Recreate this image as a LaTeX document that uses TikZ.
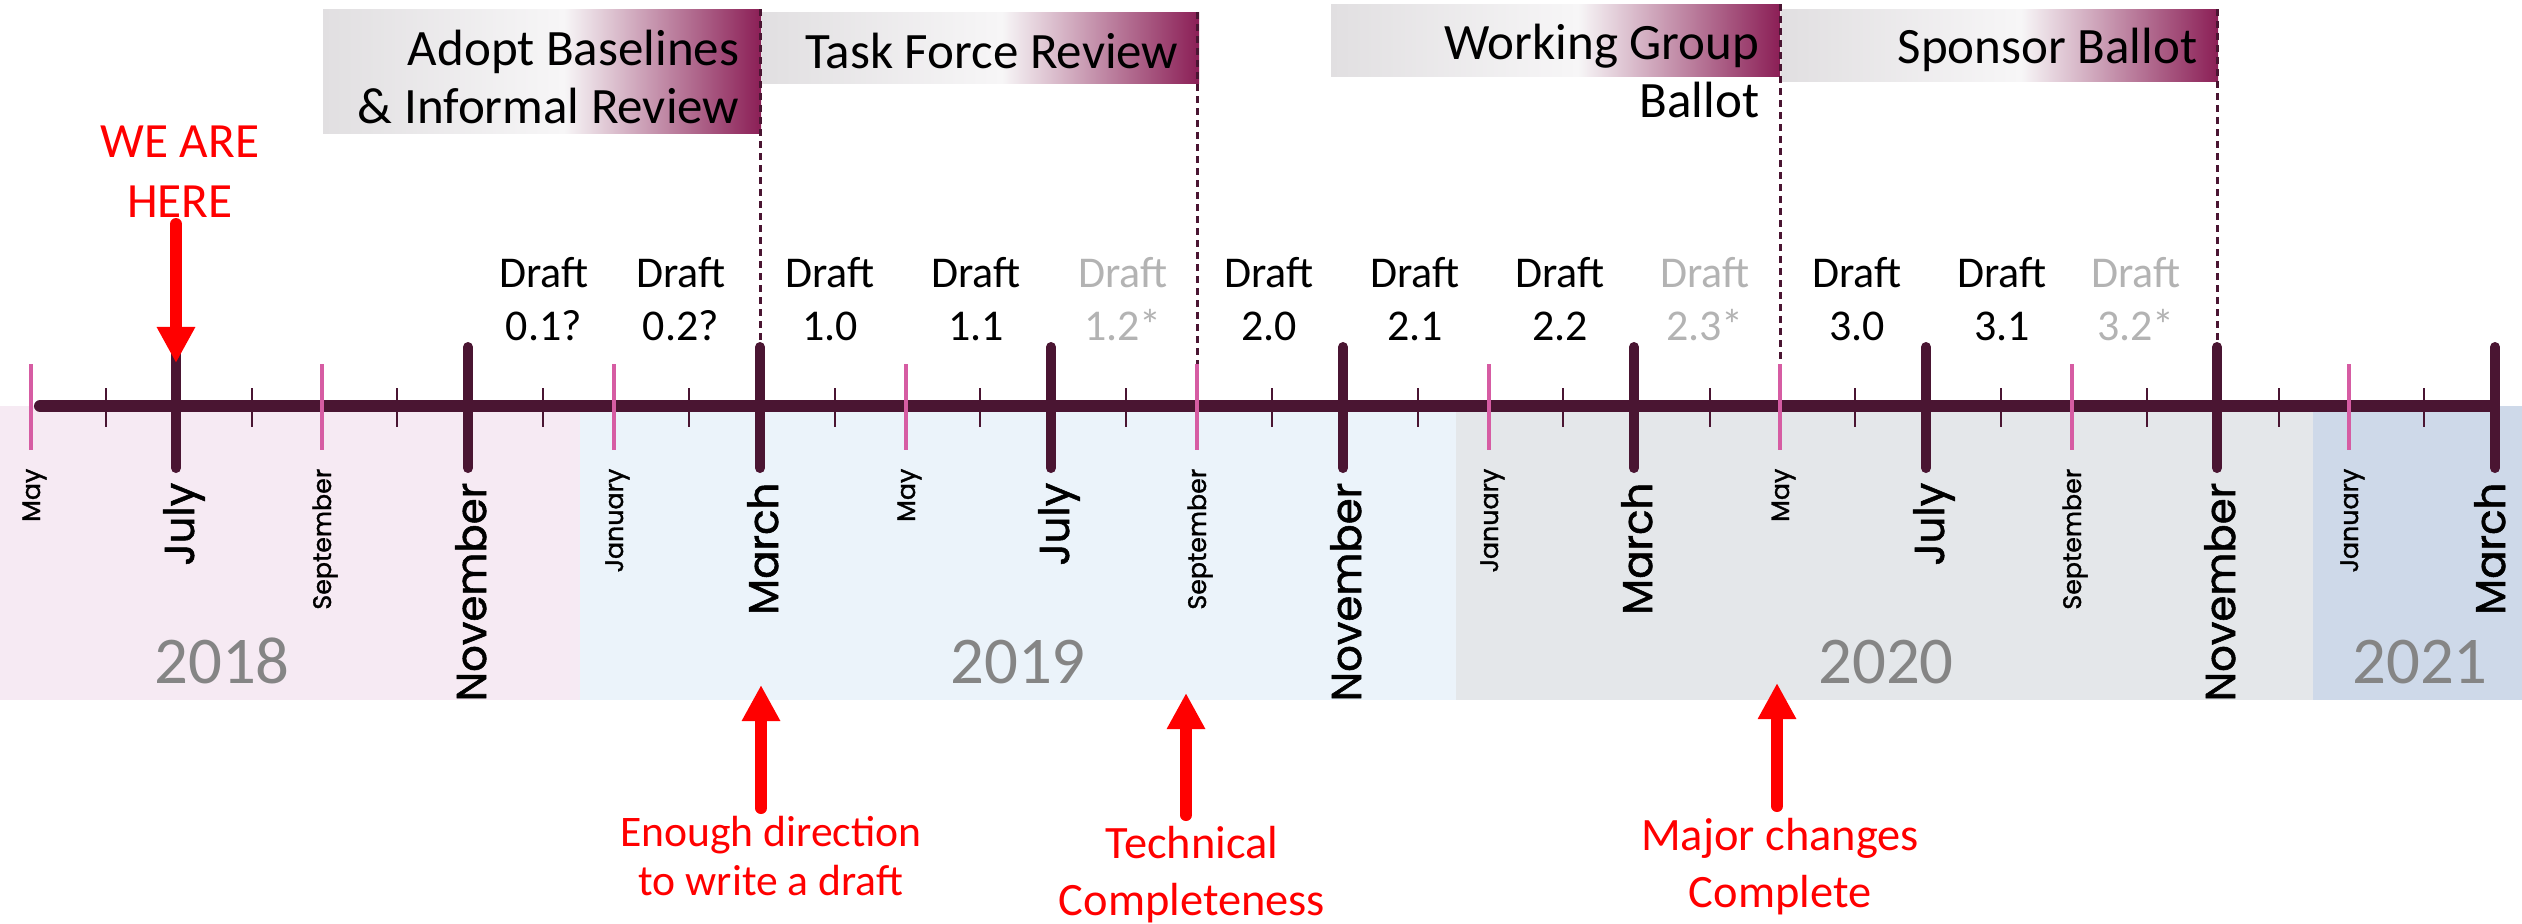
\documentclass[tikz,border=0pt]{standalone}
\usepackage{fontspec}
\setmainfont{Carlito}
\newfontfamily\monthfont{Poppins}[FakeBold=1.3]
\usetikzlibrary{arrows.meta}
\definecolor{tl}{HTML}{4A1532}
\definecolor{pinktick}{HTML}{D65CA3}
\definecolor{bandA}{HTML}{F6EAF3}
\definecolor{bandB}{HTML}{EBF3FA}
\definecolor{bandC}{HTML}{E4E7EA}
\definecolor{bandD}{HTML}{CED9E9}
\definecolor{yeargray}{HTML}{858585}
\definecolor{draftgray}{HTML}{B3B3B3}
\definecolor{boxgray}{HTML}{E1DFE1}
\definecolor{boxwhite}{HTML}{F7F6F7}
\definecolor{boxpurple}{HTML}{8B1F56}
\definecolor{alert}{HTML}{FF0000}
\begin{document}
\begin{tikzpicture}[x=0.01cm,y=-0.01cm,
  mainline/.style={tl,line width=0.12cm,line cap=round},
  minortick/.style={tl,line width=0.025cm},
  pinkt/.style={pinktick,line width=0.035cm},
  majortick/.style={tl,line width=0.10cm,line cap=round},
  bigmonth/.style={font=\monthfont\fontsize{11.9}{11.9}\selectfont,rotate=90,anchor=base east,inner sep=0pt},
  smallmonth/.style={font=\monthfont\fontsize{7.2}{7.2}\selectfont,rotate=90,anchor=base east,inner sep=0pt},
  draftlbl/.style={font=\fontsize{12.5}{14.8}\selectfont,align=center,anchor=base,inner sep=0pt},
  draftfut/.style={draftlbl,text=draftgray},
  phasetext/.style={font=\fontsize{14.5}{16.3}\selectfont,align=right,anchor=base east,inner sep=0pt},
  yearlbl/.style={font=\fontsize{19}{19}\selectfont,text=yeargray,anchor=base,inner sep=0pt},
  milestone/.style={text=alert,align=center,anchor=base,inner sep=0pt},
  redarrow/.style={alert,line width=0.12cm,line cap=round,-{Triangle[width=0.36cm,length=0.36cm]}},
  phaseline/.style={tl,line width=0.03cm,dash pattern=on 0.07cm off 0.05cm}]
\useasboundingbox (0,0) rectangle (2522,923);
% year bands
\fill[bandA] (0,406) rectangle (580,700);
\fill[bandB] (580,406) rectangle (1456,700);
\fill[bandC] (1456,406) rectangle (2313,700);
\fill[bandD] (2313,406) rectangle (2522,700);
\node[yearlbl] (y18) at (222,683) {2018};
\node[yearlbl] (y19) at (1018,683) {2019};
\node[yearlbl] (y20) at (1886,683) {2020};
\node[yearlbl] (y21) at (2420,683) {2021};
% phase boxes
\fill[left color=boxgray,right color=boxwhite] (323,9) rectangle (564,133);
\fill[left color=boxwhite,right color=boxpurple] (564,9) rectangle (761,133);
\fill[left color=boxgray,right color=boxwhite] (761,12) rectangle (1002,83);
\fill[left color=boxwhite,right color=boxpurple] (1002,12) rectangle (1199,83);
\fill[left color=boxgray,right color=boxwhite] (1331,4) rectangle (1578,76);
\fill[left color=boxwhite,right color=boxpurple] (1578,4) rectangle (1780,76);
\fill[left color=boxgray,right color=boxwhite] (1781,9) rectangle (2021,81);
\fill[left color=boxwhite,right color=boxpurple] (2021,9) rectangle (2218,81);
\node[phasetext] (p1) at (740,123) {Adopt Baselines\\\& Informal Review};
\node[phasetext] (p2) at (1179,68) {Task Force Review};
\node[phasetext] (p3) at (1760,117) {Working Group\\Ballot};
\node[phasetext] (p4) at (2198,63) {Sponsor Ballot};
% main line
\draw[mainline] (40,406) -- (2490,406);
\foreach \x in {106,252,397,543,689,835,980,1126,1272,1418,1563,1710,1855,2001,2147,2279,2424}
  \draw[minortick] (\x,388) -- (\x,427);
\foreach \x/\t [count=\i] in {31/May,322/September,614/January,906/May,1197/September,1489/January,1780/May,2072/September,2349/January}{
  \coordinate (pt\i) at (\x,364);
  \draw[pinkt] (pt\i) -- (\x,450);
  \node[smallmonth] (sm\i) at (\x+9,468) {\t};
}
\foreach \x/\t/\s [count=\i] in {176/July/18,468/November/18,760/March/18,1051/July/18,1343/November/18,1634/March/18,1926/July/18,2217/November/18,2495/March/10}{
  \coordinate (bt\i) at (\x,347);
  \draw[majortick] (bt\i) -- (\x,468);
  \node[bigmonth] (bm\i) at (\x+\s,482) {\t};
}
% dashed phase boundaries
\coordinate (d1) at (760,9);
\coordinate (d2) at (1197,12);
\coordinate (d3) at (1780,4);
\coordinate (d4) at (2217,9);
\draw[phaseline] (d1) -- (760,342);
\draw[phaseline] (d2) -- (pt5);
\draw[phaseline] (d3) -- (pt7);
\draw[phaseline] (d4) -- (2217,342);
% drafts
\node[draftlbl] (dr1) at (544,340) {Draft\\0.1?};
\node[draftlbl] (dr2) at (681,340) {Draft\\0.2?};
\node[draftlbl] (dr3) at (830,340) {Draft\\1.0};
\node[draftlbl] (dr4) at (976,340) {Draft\\1.1};
\node[draftfut] (dr5) at (1123,340) {Draft\\1.2*};
\node[draftlbl] (dr6) at (1269,340) {Draft\\2.0};
\node[draftlbl] (dr7) at (1415,340) {Draft\\2.1};
\node[draftlbl] (dr8) at (1560,340) {Draft\\2.2};
\node[draftfut] (dr9) at (1705,340) {Draft\\2.3*};
\node[draftlbl] (dr10) at (1857,340) {Draft\\3.0};
\node[draftlbl] (dr11) at (2002,340) {Draft\\3.1};
\node[draftfut] (dr12) at (2136,340) {Draft\\3.2*};
% milestones
\node[milestone,font=\fontsize{14}{16.8}\selectfont] (here) at (180,217) {WE ARE\\HERE};
\coordinate (hereA) at (176,224);
\coordinate (hereB) at (176,363);
\draw[redarrow] (hereA) -- (hereB);
\node[milestone,font=\fontsize{12.4}{13.7}\selectfont] (m1) at (771,895) {Enough direction\\to write a draft};
\coordinate (m1A) at (761,808);
\coordinate (m1B) at (761,685);
\draw[redarrow] (m1A) -- (m1B);
\node[milestone,font=\fontsize{13.2}{16.2}\selectfont] (m2) at (1192,915) {Technical\\Completeness};
\coordinate (m2A) at (1186,815);
\coordinate (m2B) at (1186,693);
\draw[redarrow] (m2A) -- (m2B);
\node[milestone,font=\fontsize{13.2}{16.2}\selectfont] (m3) at (1780,907) {Major changes\\Complete};
\coordinate (m3A) at (1777,806);
\coordinate (m3B) at (1777,683);
\draw[redarrow] (m3A) -- (m3B);
\end{tikzpicture}
\end{document}
